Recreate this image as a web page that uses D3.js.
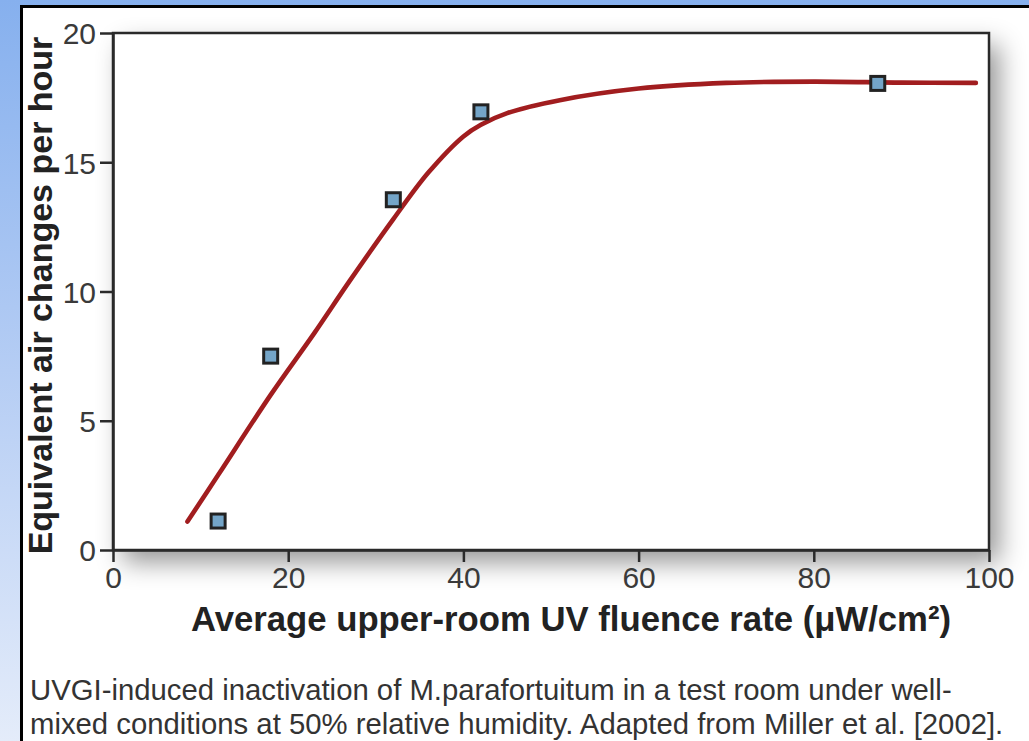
<!DOCTYPE html>
<html>
<head>
<meta charset="utf-8">
<script src="https://cdn.jsdelivr.net/npm/d3@7"></script>
<style>
  body { margin: 0; background: #fff; }
  svg { display: block; }
</style>
</head>
<body>
<script>
// measured points (UV fluence rate, air changes per hour)
const fluence = [12, 18, 32, 42, 87.3];
const ach = [1.12, 7.5, 13.55, 16.95, 18.05];

// fitted curve
const curveX = [8.5, 12, 18, 23, 27, 32, 36, 40, 42, 45, 51, 60, 70, 80, 90, 98.5];
const curveY = [1.1, 2.9, 6.0, 8.4, 10.4, 12.8, 14.6, 16.0, 16.45, 16.9, 17.4, 17.85, 18.07, 18.12, 18.08, 18.07];

const xTicks = [0, 20, 40, 60, 80, 100];
const yTicks = [0, 5, 10, 15, 20];

const xTitle = "Average upper-room UV fluence rate (μW/cm²)";
const yTitle = "Equivalent air changes per hour";
const caption = [
  "UVGI-induced inactivation of M.parafortuitum in a test room under well-",
  "mixed conditions at 50% relative humidity. Adapted from Miller et al. [2002]."
];

function main() {
  const width = 1029;
  const height = 741;
  const marginLeft = 113;
  const marginRight = 40;
  const marginTop = 33;
  const marginBottom = 191;
  const font = "'Liberation Sans', Arial, Helvetica, sans-serif";

  const x = d3.scaleLinear()
    .domain([0, 100])
    .range([marginLeft, width - marginRight]);

  const y = d3.scaleLinear()
    .domain([0, 20])
    .range([height - marginBottom, marginTop]);

  const svg = d3.create("svg")
    .attr("width", width)
    .attr("height", height)
    .style("font-family", font);

  const defs = svg.append("defs");
  const grad = defs.append("linearGradient")
    .attr("id", "bg")
    .attr("x1", 0).attr("y1", 0).attr("x2", 0).attr("y2", 1);
  grad.append("stop").attr("offset", 0).attr("stop-color", "#86b0ee");
  grad.append("stop").attr("offset", 0.5).attr("stop-color", "#b5cdf4");
  grad.append("stop").attr("offset", 1).attr("stop-color", "#e4ecfa");

  const shadow = defs.append("filter")
    .attr("id", "shadow")
    .attr("x", "-10%").attr("y", "-10%")
    .attr("width", "130%").attr("height", "140%");
  shadow.append("feDropShadow")
    .attr("dx", 10).attr("dy", 12)
    .attr("stdDeviation", 13)
    .attr("flood-color", "#000")
    .attr("flood-opacity", 0.42);

  // blue backdrop + white panel
  svg.append("rect")
    .attr("width", width).attr("height", height)
    .attr("fill", "url(#bg)");
  svg.append("rect")
    .attr("x", 21.5).attr("y", 6.5)
    .attr("width", width + 20).attr("height", height + 20)
    .attr("fill", "#fff")
    .attr("stroke", "#000")
    .attr("stroke-width", 3);

  // plot box with drop shadow
  svg.append("rect")
    .attr("x", x(0)).attr("y", y(20))
    .attr("width", x(100) - x(0))
    .attr("height", y(0) - y(20))
    .attr("fill", "#fff")
    .attr("filter", "url(#shadow)");
  svg.append("rect")
    .attr("x", x(0)).attr("y", y(20))
    .attr("width", x(100) - x(0))
    .attr("height", y(0) - y(20))
    .attr("fill", "none")
    .attr("stroke", "#2a2a2a")
    .attr("stroke-width", 2.5);

  const xAxis = svg.append("g")
    .attr("transform", `translate(0,${y(0)})`)
    .call(d3.axisBottom(x).tickValues(xTicks).tickSize(12).tickSizeOuter(0).tickPadding(5));
  const yAxis = svg.append("g")
    .attr("transform", `translate(${x(0)},0)`)
    .call(d3.axisLeft(y).tickValues(yTicks).tickSize(13).tickSizeOuter(0).tickPadding(4));

  for (const g of [xAxis, yAxis]) {
    g.select(".domain").attr("stroke", "#2a2a2a").attr("stroke-width", 2.5);
    g.selectAll(".tick line").attr("stroke", "#2a2a2a").attr("stroke-width", 2.5);
    g.selectAll(".tick text")
      .attr("fill", "#3a3a3a")
      .style("font-family", font)
      .style("font-size", "30px");
  }
  yAxis.selectAll(".tick text").attr("dy", "0.36em");

  // fitted curve
  const pts = curveX.map((v, i) => [v, curveY[i]]);
  const line = d3.line()
    .x(d => x(d[0]))
    .y(d => y(d[1]))
    .curve(d3.curveCatmullRom.alpha(0.5));
  svg.append("path")
    .attr("fill", "none")
    .attr("stroke", "#a11d1f")
    .attr("stroke-width", 4.6)
    .attr("stroke-linecap", "round")
    .attr("d", line(pts));

  // squares
  const s = 14;
  svg.append("g")
    .attr("fill", "#74a5c8")
    .attr("stroke", "#222")
    .attr("stroke-width", 3)
    .selectAll("rect")
    .data(fluence.map((v, i) => [v, ach[i]]))
    .join("rect")
    .attr("x", d => x(d[0]) - s / 2)
    .attr("y", d => y(d[1]) - s / 2)
    .attr("width", s)
    .attr("height", s);

  // titles
  svg.append("text")
    .attr("x", 571)
    .attr("y", 631)
    .attr("text-anchor", "middle")
    .attr("fill", "#222")
    .style("font-size", "34.7px")
    .style("font-weight", "bold")
    .text(xTitle);

  svg.append("text")
    .attr("transform", `translate(52,${(y(0) + y(20)) / 2 + 4}) rotate(-90)`)
    .attr("text-anchor", "middle")
    .attr("fill", "#222")
    .style("font-size", "34px")
    .style("font-weight", "bold")
    .text(yTitle);

  svg.append("g")
    .selectAll("text")
    .data(caption)
    .join("text")
    .attr("x", 30)
    .attr("y", (d, i) => 700 + i * 34)
    .attr("fill", "#333")
    .style("font-size", "29.3px")
    .text(d => d);

  document.body.appendChild(svg.node());
}

main();
</script>
</body>
</html>
